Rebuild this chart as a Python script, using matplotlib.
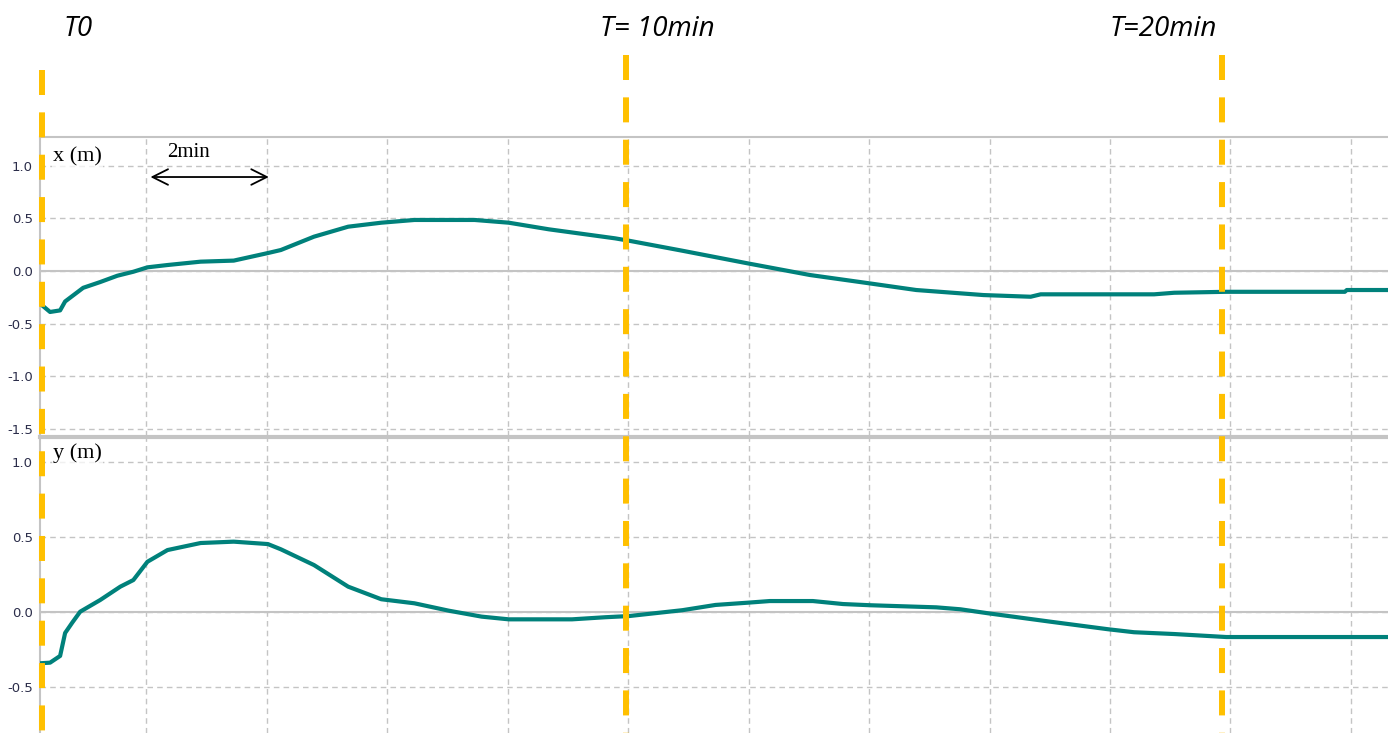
import numpy as np
import matplotlib.pyplot as plt

# =====================================================================
# DATA (time in minutes, position in metres)
# =====================================================================
t_x = [0.233, 0.40, 0.567, 0.65, 0.95, 1.233, 1.517, 1.783, 2.017, 2.35, 2.9, 3.45,
       4.017, 4.233, 4.783, 5.35, 5.9, 6.45, 7.45, 8.017, 8.683, 9.783, 10.017,
       10.9, 11.983, 13.017, 14.0, 14.783, 15.9, 16.683, 16.85, 17.967, 18.733,
       19.067, 19.933, 21.9, 21.933, 22.617]
x_pos = [-0.31, -0.39, -0.375, -0.29, -0.16, -0.105, -0.045, -0.007, 0.035, 0.057,
         0.089, 0.099, 0.171, 0.20, 0.327, 0.422, 0.46, 0.486, 0.486, 0.46, 0.397,
         0.311, 0.288, 0.193, 0.073, -0.038, -0.117, -0.181, -0.229, -0.245, -0.222,
         -0.222, -0.222, -0.207, -0.198, -0.198, -0.181, -0.181]

t_y = [0.233, 0.40, 0.567, 0.65, 0.77, 0.9, 1.233, 1.567, 1.783, 2.017, 2.35, 2.9,
       3.45, 4.017, 4.233, 4.783, 5.35, 5.9, 6.45, 7.017, 7.567, 8.017, 9.067,
       9.617, 10.017, 10.9, 11.45, 11.983, 12.35, 13.067, 13.567, 14.017, 15.117,
       15.517, 15.983, 17.017, 17.967, 18.4, 19.067, 19.933, 22.617]
y_pos = [-0.342, -0.338, -0.293, -0.14, -0.07, 0.002, 0.08, 0.169, 0.213, 0.335,
         0.413, 0.46, 0.469, 0.453, 0.418, 0.313, 0.169, 0.085, 0.058, 0.009,
         -0.031, -0.049, -0.049, -0.035, -0.027, 0.012, 0.047, 0.062, 0.073, 0.073,
         0.053, 0.045, 0.031, 0.018, -0.009, -0.065, -0.115, -0.135, -0.147,
         -0.167, -0.167]

markers_t = [0.267, 10.0, 19.933]
markers_lbl = ['T0', 'T= 10min', 'T=20min']

# =====================================================================
# STYLE
# =====================================================================
TEAL = '#00817b'
GOLD = '#ffc000'
GRID = '#c4c4c4'
TICK = '#2b2d4a'
XLIM = (0.233, 22.617)

plt.rcParams['lines.scale_dashes'] = False

W, H = 1388, 733
fig = plt.figure(figsize=(W / 100, H / 100), dpi=100)

def px_box(left, top, right, bottom):
    return [left / W, 1 - bottom / H, (right - left) / W, (bottom - top) / H]

ax1 = fig.add_axes(px_box(40, 137, 1388, 436))
ax2 = fig.add_axes(px_box(40, 437, 1388, 733))

def style_panel(ax, ylim, yticks):
    ax.set_xlim(*XLIM)
    ax.set_ylim(*ylim)
    ax.set_xticks(np.arange(2, 23, 2))
    ax.set_xticklabels([])
    ax.set_yticks(yticks)
    ax.set_yticklabels([f'{v:.1f}' for v in yticks], fontsize=9.5, color=TICK,
                       family='DejaVu Sans')
    ax.tick_params(length=0, pad=5)
    ax.grid(True, color=GRID, linestyle=(0, (4, 3)), linewidth=1)
    ax.axhline(0, color=GRID, linewidth=1.5, zorder=1)
    for side in ['right', 'bottom']:
        ax.spines[side].set_visible(False)
    for side in ['left', 'top']:
        ax.spines[side].set_color(GRID)
        ax.spines[side].set_linewidth(1.5)

style_panel(ax1, (-1.571, 1.276), [1.0, 0.5, 0.0, -0.5, -1.0, -1.5])
style_panel(ax2, (-0.807, 1.167), [1.0, 0.5, 0.0, -0.5])
ax2.spines['top'].set_linewidth(3)

ax1.plot(t_x, x_pos, color=TEAL, linewidth=3, zorder=3)
ax2.plot(t_y, y_pos, color=TEAL, linewidth=3, zorder=3)

# 2 min scale arrow
ax1.annotate('', xy=(4.033, 0.895), xytext=(2.067, 0.895),
             arrowprops=dict(arrowstyle='<->', color='black', lw=1.3,
                             mutation_scale=28, shrinkA=0, shrinkB=0))
ax1.text(2.35, 1.13, '2min', family='Liberation Serif', fontsize=15,
         ha='left', va='center')

# =====================================================================
# OVERLAY: time markers across both panels
# =====================================================================
ov = fig.add_axes([0, 0, 1, 1], zorder=5)
ov.set_xlim(2 - 146 / 60, 2 + (W - 146) / 60)
ov.set_ylim(H, 0)
ov.axis('off')
ov.patch.set_visible(False)

starts = [70, 55, 55]
for t, top in zip(markers_t, starts):
    ov.plot([t, t], [top, H], color=GOLD, linewidth=4.3,
            linestyle=(0, (18, 12.5)), solid_capstyle='butt',
            dash_capstyle='butt')

lbl_pos = [(63, 29), (600, 29), (1110, 29)]
for (px, py), lbl in zip(lbl_pos, markers_lbl):
    fig.text(px / W, 1 - py / H, lbl, fontsize=20, style='italic',
             family='Open Sans', ha='left', va='center', zorder=10)

# panel labels with light white box
for py, lbl in [(157, 'x (m)'), (453, 'y (m)')]:
    fig.text(53 / W, 1 - py / H, lbl, fontsize=16, family='Liberation Serif',
             ha='left', va='center', zorder=10,
             bbox=dict(facecolor='white', edgecolor='none', alpha=0.75, pad=1))

plt.savefig('out.png', dpi=100)
